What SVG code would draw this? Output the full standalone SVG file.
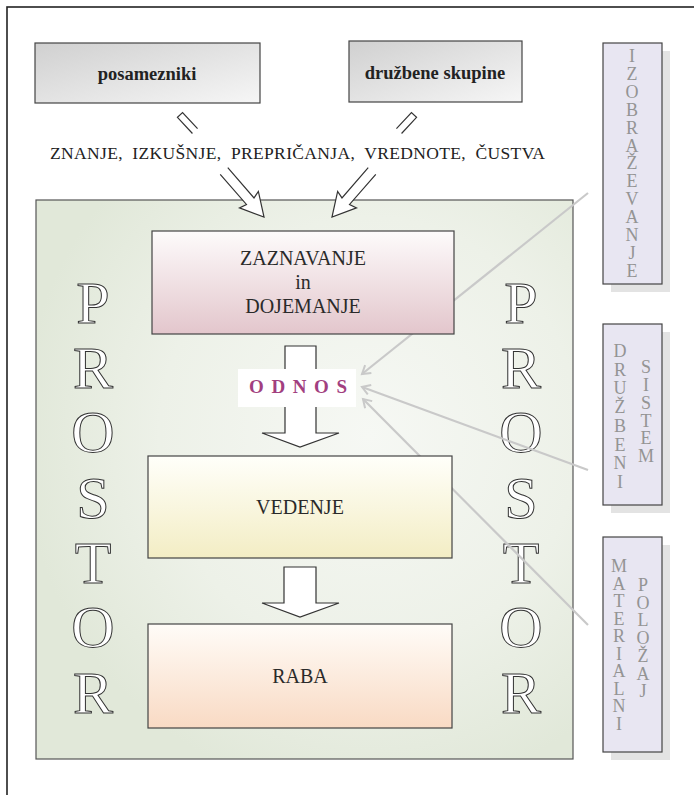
<svg xmlns="http://www.w3.org/2000/svg" width="694" height="795" viewBox="0 0 694 795">
<defs>
<style>
.serif{font-family:"Liberation Serif","DejaVu Serif",serif;}
.box{stroke:#444;stroke-width:1.2;}
.lbl{font-family:"Liberation Serif","DejaVu Serif",serif;font-size:20px;fill:#2a2a2a;text-anchor:middle;}
.big{font-family:"Liberation Serif","DejaVu Serif",serif;font-size:60px;fill:#fff;stroke:#333;stroke-width:1;text-anchor:middle;}
.vt{font-family:"Liberation Serif","DejaVu Serif",serif;font-size:18px;fill:#949494;text-anchor:middle;}
.arr{fill:#fff;stroke:#333;stroke-width:1.2;stroke-linejoin:miter;}
.con{stroke:#c9c9c9;stroke-width:2.2;fill:none;marker-end:url(#ah);}
.vbox{fill:#e8e6f2;stroke:#444;stroke-width:1.2;}
.shadow{fill:#e3e3e3;}
</style>
<linearGradient id="gGrey" x1="0" y1="0" x2="1" y2="1">
<stop offset="0" stop-color="#d0d0d0"/><stop offset="1" stop-color="#f6f6f6"/>
</linearGradient>
<radialGradient id="gGreen" cx="0.62" cy="0.42" r="0.65">
<stop offset="0" stop-color="#f6f8f4"/><stop offset="0.6" stop-color="#edf1e8"/><stop offset="1" stop-color="#e1e8d9"/>
</radialGradient>
<linearGradient id="gPink" x1="0" y1="0" x2="0" y2="1">
<stop offset="0" stop-color="#fdfbfb"/><stop offset="1" stop-color="#e3c6cc"/>
</linearGradient>
<linearGradient id="gYel" x1="0" y1="0" x2="0" y2="1">
<stop offset="0" stop-color="#fffffa"/><stop offset="1" stop-color="#f3edc4"/>
</linearGradient>
<linearGradient id="gPeach" x1="0" y1="0" x2="0" y2="1">
<stop offset="0" stop-color="#fffcf8"/><stop offset="1" stop-color="#f9dac4"/>
</linearGradient>
<marker id="ah" markerWidth="12" markerHeight="12" refX="9" refY="6" orient="auto" markerUnits="userSpaceOnUse">
<path d="M1,1 L9,6 L1,11" fill="none" stroke="#c9c9c9" stroke-width="2"/>
</marker>
</defs>

<rect x="7" y="7" width="700" height="800" fill="#fff" stroke="#222" stroke-width="1.6"/>

<g id="posamezniki">
<rect class="box" x="35" y="43" width="225" height="60" fill="url(#gGrey)"/>
<text class="serif" x="147" y="80" font-size="18.5" font-weight="bold" fill="#222" text-anchor="middle">posamezniki</text>
</g>
<g id="druzbene-skupine">
<rect class="box" x="349" y="41" width="173" height="61" fill="url(#gGrey)"/>
<text class="serif" x="435" y="79" font-size="18.5" font-weight="bold" fill="#222" text-anchor="middle">družbene skupine</text>
</g>

<g id="inputs">
<text class="serif" x="50" y="159" font-size="17.5" fill="#222" textLength="495" lengthAdjust="spacing" xml:space="preserve">ZNANJE,  IZKUŠNJE,  PREPRIČANJA,  VREDNOTE,  ČUSTVA</text>
</g>

<g id="prostor">
<rect x="36" y="200" width="537" height="559" fill="url(#gGreen)" stroke="#555" stroke-width="1.2"/>
<text class="big" x="93" y="323">P</text>
<text class="big" x="93" y="388">R</text>
<text class="big" x="93" y="452">O</text>
<text class="big" x="93" y="518">S</text>
<text class="big" x="93" y="583">T</text>
<text class="big" x="93" y="647">O</text>
<text class="big" x="93" y="713">R</text>
<text class="big" x="521" y="323">P</text>
<text class="big" x="521" y="388">R</text>
<text class="big" x="521" y="452">O</text>
<text class="big" x="521" y="518">S</text>
<text class="big" x="521" y="583">T</text>
<text class="big" x="521" y="647">O</text>
<text class="big" x="521" y="713">R</text>
</g>

<g id="connectors">
<path class="arr" transform="translate(180,115) rotate(47)" d="M22,-3.5 L0,-3.5 L0,3.5 L22,3.5"/>
<path class="arr" transform="translate(414,115) rotate(133)" d="M22,-3.5 L0,-3.5 L0,3.5 L22,3.5"/>
<path class="arr" transform="translate(224,171) rotate(49)" d="M0,-5 L40,-5 L38,-12.5 L61,0 L38,12.5 L40,5 L0,5"/>
<path class="arr" transform="translate(372,171) rotate(131)" d="M0,-5 L40,-5 L38,-12.5 L61,0 L38,12.5 L40,5 L0,5"/>
<path class="con" d="M588,193 L362,374"/>
<path class="con" d="M588,470 L362,387"/>
<path class="con" d="M588,625 L363,399"/>
<path class="arr" d="M285,346 L316,346 L316,433 L339,433 L300,447 L262,433 L285,433 Z"/>
<path class="arr" d="M284,567 L316,567 L316,603 L339,603 L300,617 L262,603 L284,603 Z"/>
</g>

<g id="zaznavanje">
<rect class="box" x="152" y="231" width="302" height="103" fill="url(#gPink)"/>
<text class="lbl" x="303" y="265">ZAZNAVANJE</text>
<text class="lbl" x="303" y="289">in</text>
<text class="lbl" x="303" y="313">DOJEMANJE</text>
</g>

<g id="odnos">
<rect x="238" y="369" width="118" height="38" fill="#fff"/>
<text class="serif" x="249" y="393" font-size="19" font-weight="bold" fill="#a23f80" letter-spacing="7.6">ODNOS</text>
</g>

<g id="vedenje">
<rect class="box" x="148" y="456" width="304" height="102" fill="url(#gYel)"/>
<text class="lbl" x="300" y="514">VEDENJE</text>
</g>

<g id="raba">
<rect class="box" x="148" y="624" width="304" height="104" fill="url(#gPeach)"/>
<text class="lbl" x="300" y="683">RABA</text>
</g>

<g id="izobrazevanje">
<rect class="shadow" x="611" y="51" width="59" height="241"/>
<rect class="vbox" x="603" y="43" width="59" height="241"/>
<text class="vt" x="632" y="62">I</text>
<text class="vt" x="632" y="80">Z</text>
<text class="vt" x="632" y="98">O</text>
<text class="vt" x="632" y="116">B</text>
<text class="vt" x="632" y="134">R</text>
<text class="vt" x="632" y="152">A</text>
<text class="vt" x="632" y="169">Ž</text>
<text class="vt" x="632" y="187">E</text>
<text class="vt" x="632" y="205">V</text>
<text class="vt" x="632" y="223">A</text>
<text class="vt" x="632" y="241">N</text>
<text class="vt" x="632" y="259">J</text>
<text class="vt" x="632" y="277">E</text>
</g>

<g id="druzbeni-sistem">
<rect class="shadow" x="611" y="332" width="59" height="181"/>
<rect class="vbox" x="603" y="324" width="59" height="181"/>
<text class="vt" x="620" y="357">D</text>
<text class="vt" x="620" y="376">R</text>
<text class="vt" x="620" y="394">U</text>
<text class="vt" x="620" y="413">Ž</text>
<text class="vt" x="620" y="432">B</text>
<text class="vt" x="620" y="451">E</text>
<text class="vt" x="620" y="469">N</text>
<text class="vt" x="620" y="488">I</text>
<text class="vt" x="646" y="373">S</text>
<text class="vt" x="646" y="391">I</text>
<text class="vt" x="646" y="409">S</text>
<text class="vt" x="646" y="427">T</text>
<text class="vt" x="646" y="444">E</text>
<text class="vt" x="646" y="462">M</text>
</g>

<g id="materialni-polozaj">
<rect class="shadow" x="611" y="545" width="59" height="215"/>
<rect class="vbox" x="603" y="537" width="59" height="215"/>
<text class="vt" x="619" y="572">M</text>
<text class="vt" x="619" y="590">A</text>
<text class="vt" x="619" y="607">T</text>
<text class="vt" x="619" y="625">E</text>
<text class="vt" x="619" y="642">R</text>
<text class="vt" x="619" y="660">I</text>
<text class="vt" x="619" y="677">A</text>
<text class="vt" x="619" y="695">L</text>
<text class="vt" x="619" y="712">N</text>
<text class="vt" x="619" y="730">I</text>
<text class="vt" x="643" y="591">P</text>
<text class="vt" x="643" y="609">O</text>
<text class="vt" x="643" y="626">L</text>
<text class="vt" x="643" y="644">O</text>
<text class="vt" x="643" y="662">Ž</text>
<text class="vt" x="643" y="680">A</text>
<text class="vt" x="643" y="697">J</text>
</g>
</svg>
